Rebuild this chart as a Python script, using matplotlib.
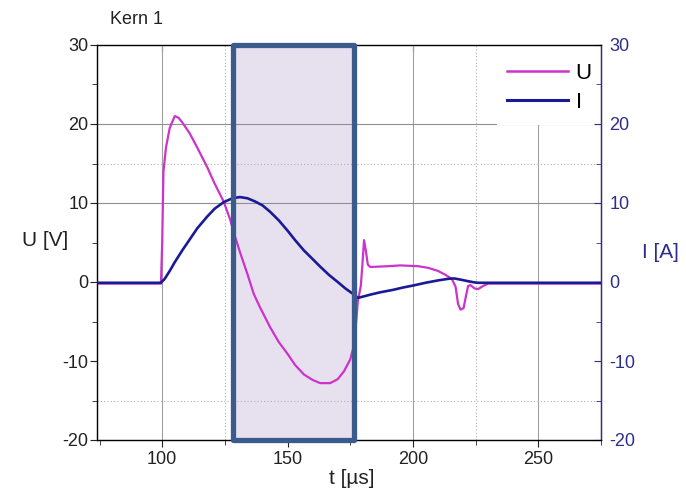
import matplotlib
matplotlib.use("Agg")
import matplotlib.pyplot as plt
from matplotlib.patches import Rectangle
from matplotlib.ticker import MultipleLocator
from matplotlib.lines import Line2D

plt.rcParams['font.family'] = ['Liberation Sans', 'DejaVu Sans']
plt.rcParams['axes.unicode_minus'] = False

# ---- data ----
t_U = [74, 99.5, 100, 100.5, 101.5, 103, 105, 106.5, 108, 111, 114, 118, 121, 124.5, 127, 129,
       131, 134, 136.5, 139, 143, 146.5, 150, 153, 156.5, 160, 163, 167, 170, 172.5, 175, 176.5,
       177.5, 178, 179.2, 179.8, 180.5, 181.2, 182, 183, 190, 195, 202, 206, 210, 213, 215.5,
       217, 218, 219, 220.2, 221, 222, 223, 224.5, 226, 228, 230, 275]
U = [-0.2, -0.2, 5, 14, 17, 19.5, 21, 20.8, 20.2, 18.8, 17.0, 14.5, 12.4, 10.2, 8.0, 5.8,
     3.8, 1.0, -1.5, -3.2, -5.7, -7.6, -9.1, -10.5, -11.7, -12.4, -12.8, -12.8, -12.3, -11.3, -9.8, -8.0,
     -4.5, -2.5, -0.5, 2.0, 5.3, 4.0, 2.2, 1.9, 2.0, 2.1, 2.0, 1.8, 1.4, 0.9, 0.4,
     -0.6, -2.8, -3.5, -3.3, -2.0, -0.5, -0.4, -0.8, -0.9, -0.5, -0.2, -0.2]

t_I = [74, 99.5, 101, 103, 105, 108, 111, 114, 118, 121, 124.5, 128, 131, 134, 137, 140, 143,
       146.5, 150, 153, 156.5, 160, 163, 166.5, 170, 173, 176.5, 178, 179.5, 183, 187, 192, 196,
       200, 205, 210, 214, 216.5, 219, 222, 224.5, 226, 275]
I = [-0.1, -0.1, 0.4, 1.4, 2.5, 4.0, 5.4, 6.8, 8.3, 9.3, 10.1, 10.6, 10.75, 10.6, 10.2, 9.7, 8.9,
     7.8, 6.5, 5.3, 4.0, 2.9, 1.95, 0.9, 0.0, -0.8, -1.6, -2.0, -1.9, -1.6, -1.3, -1.0, -0.7,
     -0.45, -0.1, 0.2, 0.4, 0.45, 0.3, 0.1, -0.05, -0.1, -0.1]

labels = ['U', 'I']
box_t = [128.2, 176.4]
solid_x = [100, 200, 250]
dotted_x = [125, 225]
solid_y = [10, 20]
dotted_y = [15, -15]

xlim = (74, 275)
ylim = (-20, 30)

c_U = '#cc33cc'
c_I = '#1a1a96'
c_ax2 = '#2e2e8a'
c_box = '#3b5b8c'
c_fill = '#e7e1ef'

fig = plt.figure(figsize=(6.86, 4.95), dpi=100)
ax = fig.add_axes([97/686, 55/495, 504/686, 395/495])
ax.set_xlim(*xlim)
ax.set_ylim(*ylim)

# shaded window fill
ax.add_patch(Rectangle((box_t[0], ylim[0]), box_t[1]-box_t[0], ylim[1]-ylim[0],
                       facecolor=c_fill, edgecolor='none', zorder=0.5))
# grid
for x in solid_x:
    ax.axvline(x, color='#a0a0a0', lw=0.8, zorder=1)
for x in dotted_x:
    ax.axvline(x, color='#b0b0b0', lw=0.8, ls=(0, (1, 2)), zorder=1)
for y in solid_y:
    ax.axhline(y, color='#909090', lw=0.8, zorder=1)
for y in dotted_y:
    ax.axhline(y, color='#b0b0b0', lw=0.8, ls=(0, (1, 2)), zorder=1)

# white legend background area (covers grid in upper right)
ax.add_patch(Rectangle((0.794, 0.797), 0.206, 0.203, transform=ax.transAxes,
                       facecolor='white', edgecolor='none', zorder=1.5))

ax.plot(t_U, U, color=c_U, lw=1.6, zorder=3)

ax.xaxis.set_major_locator(MultipleLocator(50))
ax.xaxis.set_minor_locator(MultipleLocator(25))
ax.yaxis.set_major_locator(MultipleLocator(10))
ax.yaxis.set_minor_locator(MultipleLocator(5))
ax.tick_params(axis='y', which='both', direction='out', left=True, right=False,
               labelsize=13, pad=1, colors='#222222')
ax.tick_params(axis='y', which='major', length=5)
ax.tick_params(axis='y', which='minor', length=3.5)
ax.tick_params(axis='x', which='both', direction='out', bottom=True, top=False,
               labelsize=13, pad=3, colors='#222222')
ax.tick_params(axis='x', which='major', length=5)
ax.tick_params(axis='x', which='minor', length=3.5)
for s in ['left', 'bottom', 'top']:
    ax.spines[s].set_color('#333333')
    ax.spines[s].set_linewidth(1.0)

ax2 = ax.twinx()
ax2.set_ylim(*ylim)
ax2.plot(t_I, I, color=c_I, lw=1.9, zorder=3)
ax2.yaxis.set_major_locator(MultipleLocator(10))
ax2.yaxis.set_minor_locator(MultipleLocator(5))
ax2.tick_params(axis='y', which='both', direction='in', colors=c_ax2, labelcolor=c_ax2,
                labelsize=13, pad=6)
ax2.tick_params(axis='y', which='major', length=5)
ax2.tick_params(axis='y', which='minor', length=3.5)
ax2.spines['right'].set_color(c_ax2)
ax2.spines['right'].set_linewidth(1.0)
ax2.xaxis.set_visible(False)
# top inward ticks
sec = ax.secondary_xaxis('top')
sec.xaxis.set_major_locator(MultipleLocator(50))
sec.tick_params(direction='in', length=5, labeltop=False, colors='#333333')
sec.spines['top'].set_visible(False)

# box outline on top
ax2.add_patch(Rectangle((box_t[0], ylim[0]), box_t[1]-box_t[0], ylim[1]-ylim[0],
                        facecolor='none', edgecolor=c_box, lw=3.8, zorder=10,
                        clip_on=False, joinstyle='round'))

handles = [Line2D([], [], color=c_U, lw=1.8), Line2D([], [], color=c_I, lw=2.2)]
leg = ax2.legend(handles, labels, loc='upper left', bbox_to_anchor=(0.813, 0.955),
                 borderaxespad=0, fontsize=16, frameon=False,
                 handlelength=2.75, handletextpad=0.35, labelspacing=0.38, borderpad=0)
leg.set_zorder(5)

fig.text(110/686, 1-20/495, 'Kern 1', fontsize=13, va='center', ha='left', color='#222222')
fig.text(45/686, 1-240/495, 'U [V]', fontsize=15, va='center', ha='center', color='#222222')
fig.text(660/686, 1-253/495, 'I [A]', fontsize=15, va='center', ha='center', color=c_ax2)
fig.text(352/686, 1-479/495, 't [µs]', fontsize=15, va='center', ha='center', color='#222222')

fig.savefig('out.png', dpi=100)
